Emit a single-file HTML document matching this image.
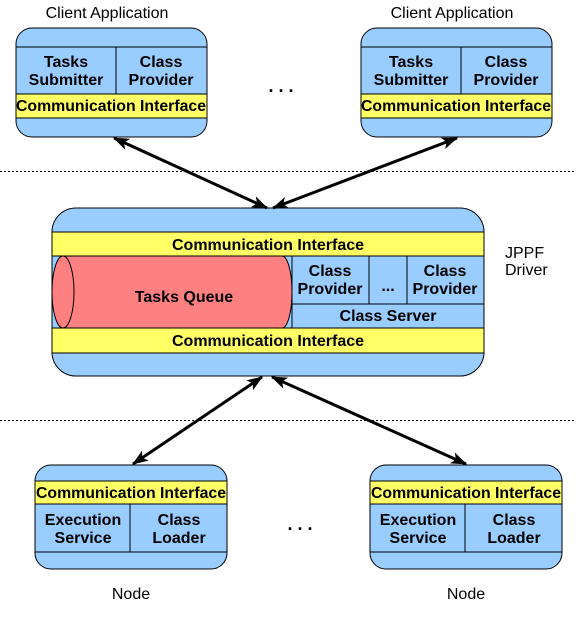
<!DOCTYPE html>
<html><head><style>
body{margin:0;background:#fff;}
svg text{font-family:"Liberation Sans",Arial,sans-serif;font-size:16px;}
.b{font-weight:bold;}
</style></head><body>
<svg width="584" height="617" xmlns="http://www.w3.org/2000/svg">
<defs>
<marker id="ah" markerWidth="16" markerHeight="12" refX="15" refY="6" orient="auto" markerUnits="userSpaceOnUse"><path d="M0,0 L16,6 L0,12 L4,6 Z" fill="#000"/></marker>
<marker id="at" markerWidth="16" markerHeight="12" refX="1" refY="6" orient="auto" markerUnits="userSpaceOnUse"><path d="M16,0 L0,6 L16,12 L12,6 Z" fill="#000"/></marker>
</defs>
<g stroke="#000" stroke-dasharray="2,2" stroke-width="1"><line x1="0" y1="171.5" x2="576" y2="171.5"/><line x1="0" y1="420.5" x2="576" y2="420.5"/></g>

<g>
<rect x="16" y="28" width="191" height="109" rx="16" fill="#99ccff" stroke="#000"/>
<rect x="16" y="47" width="191" height="47" fill="#99ccff" stroke="#000"/>
<line x1="116" y1="47" x2="116" y2="94" stroke="#000"/>
<rect x="16" y="94" width="191" height="24" fill="#ffff66" stroke="#000"/>
<text class="b" x="66" y="67" text-anchor="middle">Tasks</text><text class="b" x="66" y="85" text-anchor="middle">Submitter</text>
<text class="b" x="161" y="67" text-anchor="middle">Class</text><text class="b" x="161" y="85" text-anchor="middle">Provider</text>
<text class="b" x="111" y="111" text-anchor="middle" textLength="190" lengthAdjust="spacingAndGlyphs">Communication Interface</text>
<text x="107" y="18" text-anchor="middle">Client Application</text>
</g>
<g transform="translate(345,0)">
<rect x="16" y="28" width="191" height="109" rx="16" fill="#99ccff" stroke="#000"/>
<rect x="16" y="47" width="191" height="47" fill="#99ccff" stroke="#000"/>
<line x1="116" y1="47" x2="116" y2="94" stroke="#000"/>
<rect x="16" y="94" width="191" height="24" fill="#ffff66" stroke="#000"/>
<text class="b" x="66" y="67" text-anchor="middle">Tasks</text><text class="b" x="66" y="85" text-anchor="middle">Submitter</text>
<text class="b" x="161" y="67" text-anchor="middle">Class</text><text class="b" x="161" y="85" text-anchor="middle">Provider</text>
<text class="b" x="111" y="111" text-anchor="middle" textLength="190" lengthAdjust="spacingAndGlyphs">Communication Interface</text>
<text x="107" y="18" text-anchor="middle">Client Application</text>
</g>
<text class="b" x="281" y="92" text-anchor="middle" style="font-size:18px">. . .</text>

<rect x="52" y="208" width="432" height="168" rx="24" fill="#99ccff" stroke="#000"/>
<rect x="52" y="232" width="432" height="24" fill="#ffff66" stroke="#000"/>
<rect x="52" y="256" width="432" height="72" fill="#99ccff" stroke="#000"/>
<path d="M63,256 L282,256 A10,36 0 0 1 282,328 L63,328 Z" fill="#ff8080" stroke="#000"/>
<ellipse cx="63" cy="292" rx="11" ry="36" fill="#ff8080" stroke="#000"/>
<rect x="292" y="256" width="192" height="48" fill="#99ccff" stroke="#000"/>
<line x1="292" y1="256" x2="292" y2="328" stroke="#000"/>
<line x1="369" y1="256" x2="369" y2="304" stroke="#000"/>
<line x1="407" y1="256" x2="407" y2="304" stroke="#000"/>
<rect x="52" y="328" width="432" height="25" fill="#ffff66" stroke="#000"/>
<text class="b" x="268" y="250" text-anchor="middle">Communication Interface</text>
<text class="b" x="268" y="346" text-anchor="middle">Communication Interface</text>
<text class="b" x="184" y="302" text-anchor="middle">Tasks Queue</text>
<text class="b" x="330" y="276" text-anchor="middle">Class</text><text class="b" x="330" y="294" text-anchor="middle">Provider</text>
<text class="b" x="388" y="291" text-anchor="middle">...</text>
<text class="b" x="445" y="276" text-anchor="middle">Class</text><text class="b" x="445" y="294" text-anchor="middle">Provider</text>
<text class="b" x="388" y="321" text-anchor="middle">Class Server</text>
<text x="505" y="258">JPPF</text><text x="505" y="275">Driver</text>

<g>
<rect x="35" y="465" width="192" height="104" rx="16" fill="#99ccff" stroke="#000"/>
<rect x="35" y="481" width="192" height="23" fill="#ffff66" stroke="#000"/>
<rect x="35" y="504" width="192" height="48" fill="#99ccff" stroke="#000"/>
<line x1="130" y1="504" x2="130" y2="552" stroke="#000"/>
<text class="b" x="131" y="498" text-anchor="middle" textLength="190" lengthAdjust="spacingAndGlyphs">Communication Interface</text>
<text class="b" x="83" y="525" text-anchor="middle">Execution</text><text class="b" x="83" y="543" text-anchor="middle">Service</text>
<text class="b" x="179" y="525" text-anchor="middle">Class</text><text class="b" x="179" y="543" text-anchor="middle">Loader</text>
<text x="131" y="599" text-anchor="middle">Node</text>
</g>
<g transform="translate(335,0)">
<rect x="35" y="465" width="192" height="104" rx="16" fill="#99ccff" stroke="#000"/>
<rect x="35" y="481" width="192" height="23" fill="#ffff66" stroke="#000"/>
<rect x="35" y="504" width="192" height="48" fill="#99ccff" stroke="#000"/>
<line x1="130" y1="504" x2="130" y2="552" stroke="#000"/>
<text class="b" x="131" y="498" text-anchor="middle" textLength="190" lengthAdjust="spacingAndGlyphs">Communication Interface</text>
<text class="b" x="83" y="525" text-anchor="middle">Execution</text><text class="b" x="83" y="543" text-anchor="middle">Service</text>
<text class="b" x="179" y="525" text-anchor="middle">Class</text><text class="b" x="179" y="543" text-anchor="middle">Loader</text>
<text x="131" y="599" text-anchor="middle">Node</text>
</g>
<text class="b" x="300" y="530" text-anchor="middle" style="font-size:18px">. . .</text>

<g stroke="#000" stroke-width="3" fill="none">
<line x1="114" y1="138" x2="267" y2="208" marker-start="url(#at)" marker-end="url(#ah)"/>
<line x1="457" y1="138" x2="273" y2="208" marker-start="url(#at)" marker-end="url(#ah)"/>
<line x1="262" y1="377" x2="133" y2="464" marker-start="url(#at)" marker-end="url(#ah)"/>
<line x1="272" y1="377" x2="466" y2="464" marker-start="url(#at)" marker-end="url(#ah)"/>
</g>
</svg>
</body></html>
